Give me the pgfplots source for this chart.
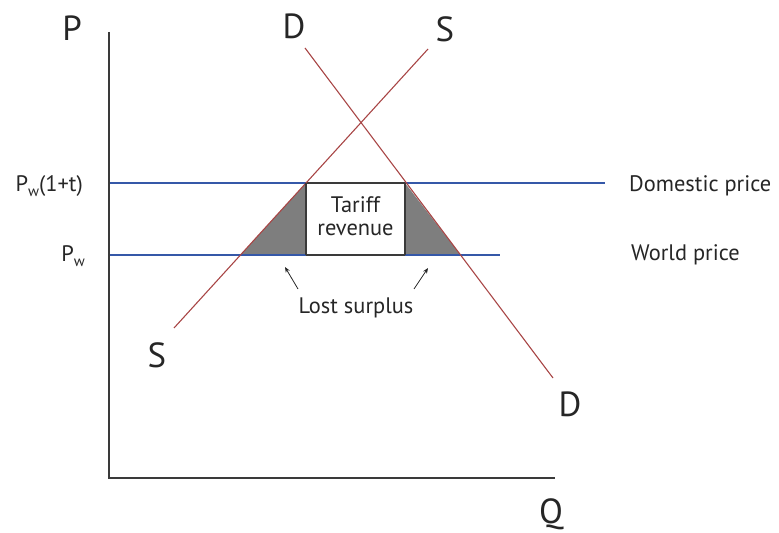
\documentclass[border=0pt]{standalone}
\usepackage{pgfplots}
\pgfplotsset{compat=1.18}
\usetikzlibrary{arrows.meta}
\usepackage{fontspec}
\setmainfont{PT Sans}
\definecolor{lred}{HTML}{A84545}
\definecolor{lblue}{HTML}{3558A8}
\definecolor{axgray}{HTML}{3A3A3A}
\definecolor{shade}{HTML}{7E7E7E}
\definecolor{txt}{HTML}{262626}
\tikzset{lab/.style={font=\fontsize{22.5}{23}\selectfont, text=txt, inner sep=0pt},
         big/.style={font=\fontsize{35}{36}\selectfont, text=txt, inner sep=0pt}}
\newcommand{\sub}[1]{\raisebox{-0.45ex}{\fontsize{15}{15}\selectfont #1}}
\begin{document}
\begin{tikzpicture}
\begin{axis}[
  x=1bp, y=1bp,
  xmin=0, xmax=779, ymin=0, ymax=533,
  y dir=reverse,
  hide axis, clip=false,
]
\path (axis cs:0,0) rectangle (axis cs:779,533);
% shaded triangles
\addplot[fill=shade, draw=none] coordinates {(240.5,255) (306,183) (306,255)} -- cycle;
\addplot[fill=shade, draw=none] coordinates {(405,183) (460.5,255) (405,255)} -- cycle;
% tariff revenue box
\addplot[fill=white, draw=axgray, line width=1.3pt] coordinates {(306,183) (405,183) (405,255) (306,255)} -- cycle;
% price lines
\addplot[lblue, line width=1.2pt] coordinates {(109,183) (306,183)};
\addplot[lblue, line width=1.2pt] coordinates {(405,183) (605,183)};
\addplot[lblue, line width=1.2pt] coordinates {(109,255) (306,255)};
\addplot[lblue, line width=1.2pt] coordinates {(405,255) (500,255)};
% supply and demand
\addplot[lred, line width=1.1pt] coordinates {(174,328) (428,49)};
\addplot[lred, line width=1.1pt] coordinates {(305,48) (553,378)};
% redraw box edges over lines
\addplot[draw=axgray, line width=1.3pt] coordinates {(306,183) (306,255)};
\addplot[draw=axgray, line width=1.3pt] coordinates {(405,183) (405,255)};
% axes
\addplot[axgray, line width=1.4pt] coordinates {(109,32) (109,478) (555,478)};
% arrows
\addplot[txt, line width=0.8pt, -{Stealth[length=5.5pt,width=4.5pt]}] coordinates {(298,289) (285,267)};
\addplot[txt, line width=0.8pt, -{Stealth[length=5.5pt,width=4.5pt]}] coordinates {(414,289) (428,268)};
% labels
\node[big] at (axis cs:72,28) {P};
\node[big] at (axis cs:294,26) {D};
\node[big] at (axis cs:445,29) {S};
\node[big] at (axis cs:157,355) {S};
\node[big] at (axis cs:570,404) {D};
\node[big] at (axis cs:551,514) {Q};
\node[lab, anchor=east] at (axis cs:83,186) {P\sub{w}(1+t)};
\node[lab, anchor=east] at (axis cs:85,256) {P\sub{w}};
\node[lab, anchor=west] at (axis cs:629,186) {Domestic price};
\node[lab, anchor=west] at (axis cs:631,255) {World price};
\node[lab, align=center] at (axis cs:355.5,216) {Tariff\\revenue};
\node[lab] at (axis cs:356,308) {Lost surplus};
\end{axis}
\end{tikzpicture}
\end{document}
